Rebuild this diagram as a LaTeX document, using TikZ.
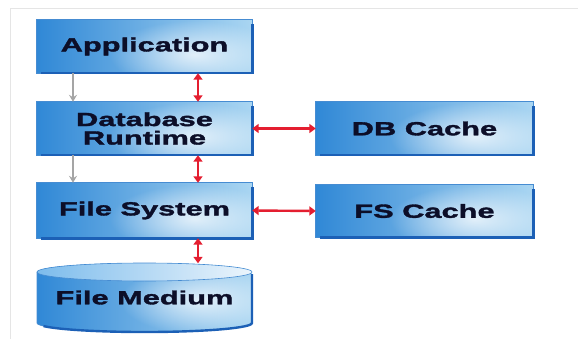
\documentclass[tikz,border=0pt]{standalone}
\usepackage{fontspec}
\usetikzlibrary{arrows.meta,fadings}
\newfontfamily\boxfont[FakeStretch=1.62,FakeBold=1.8]{Liberation Sans}

\definecolor{boxL}{RGB}{48,136,214}
\definecolor{boxR}{RGB}{170,214,242}
\definecolor{boxTop}{RGB}{125,188,236}
\definecolor{boxEdge}{RGB}{28,96,182}
\definecolor{boxLine}{RGB}{70,140,210}
\definecolor{labelInk}{RGB}{12,14,40}
\definecolor{linkRed}{RGB}{228,30,48}
\definecolor{flowGray}{RGB}{165,165,165}

\pgfdeclarelayer{background}
\pgfsetlayers{background,main}

\tikzfading[name=glowfade, inner color=transparent!25, outer color=transparent!100]

\tikzset{
  blocklabel/.style={rectangle, inner sep=0pt, minimum width=215pt, minimum height=53pt,
    align=center, text=labelInk, font=\boxfont\bfseries\fontsize{19}{18.5}\selectfont},
  cachelabel/.style={blocklabel, minimum width=217pt},
  redlink/.style={linkRed, line width=2.4pt,
    {Triangle[width=9pt,length=6.5pt]}-{Triangle[width=9pt,length=6.5pt]}},
  graylink/.style={flowGray, line width=2pt, -{Stealth[width=8pt,length=7pt,inset=2.5pt]}}
}

\begin{document}
\begin{tikzpicture}[x=1pt,y=-1pt]
\useasboundingbox (0,0) rectangle (578,339);

% faint frame
\draw[black!10, line width=1pt] (10,339) -- (10,8.5) -- (578,8.5);

% block labels
\node[blocklabel] (app) at (144.5,46.5) {Application};
\node[blocklabel] (dbr) at (144.5,128.5) {Database\\Runtime};
\node[blocklabel, minimum height=55pt] (fs) at (144.5,210.5) {File System};
\node[cachelabel] (dbc) at (424.5,128.5) {DB Cache};
\node[cachelabel, minimum height=52pt] (fsc) at (424.5,211) {FS Cache};
\node[blocklabel, minimum height=69pt] (med) at (144.5,297.5) {\raisebox{-3pt}{File Medium}};

% box bodies
\begin{pgfonlayer}{background}
\foreach \n in {app,dbr,fs,dbc,fsc}{
  \shade[left color=boxL, right color=boxR] (\n.south west) rectangle (\n.north east);
  \begin{scope}
    \clip (\n.south west) rectangle (\n.north east);
    \fill[white, path fading=glowfade] ([xshift=50pt,yshift=-8pt]\n.center) ellipse (85pt and 34pt);
  \end{scope}
  \draw[boxLine, line width=0.7pt] (\n.south west) rectangle (\n.north east);
  \draw[boxEdge, line width=2.6pt] ([xshift=4pt]\n.south west) -- (\n.south east) -- ([yshift=-4pt]\n.north east);
}

% storage cylinder
\shade[left color=boxL, right color=boxR]
  (37,272) -- (37,323) arc (180:0:107.5 and 9) -- (252,272) arc (0:-180:107.5 and 9) -- cycle;
\begin{scope}
  \clip (37,272) -- (37,323) arc (180:0:107.5 and 9) -- (252,272) arc (0:-180:107.5 and 9) -- cycle;
  \fill[white, path fading=glowfade] (200,300) ellipse (80pt and 34pt);
\end{scope}
\shade[left color=boxTop, right color=white!85!boxTop] (144.5,272) ellipse (107.5 and 9);
\draw[boxLine, line width=0.6pt] (144.5,272) ellipse (107.5 and 9);
\draw[boxLine, line width=0.7pt] (37,272) -- (37,323) arc (180:0:107.5 and 9);
\draw[boxEdge, line width=2.4pt] (43.5,326.1) arc (160:0:107.5 and 9) -- (252,274);
\end{pgfonlayer}

% vertical flow
\draw[graylink] ([xshift=-71.5pt]app.south) -- ([xshift=-71.5pt]dbr.north);
\draw[graylink] ([xshift=-71.5pt]dbr.south) -- ([xshift=-71.5pt]fs.north);

% two-way links
\draw[redlink] ([xshift=53.5pt]app.south) -- ([xshift=53.5pt]dbr.north);
\draw[redlink] ([xshift=53.5pt]dbr.south) -- ([xshift=53.5pt]fs.north);
\draw[redlink] ([xshift=53.5pt]fs.south) -- ([xshift=53.5pt,yshift=-0.5pt]med.north);
\draw[redlink] (dbr.east) -- (dbc.west);
\draw[redlink] (fs.east) -- (fsc.west);
\end{tikzpicture}
\end{document}
